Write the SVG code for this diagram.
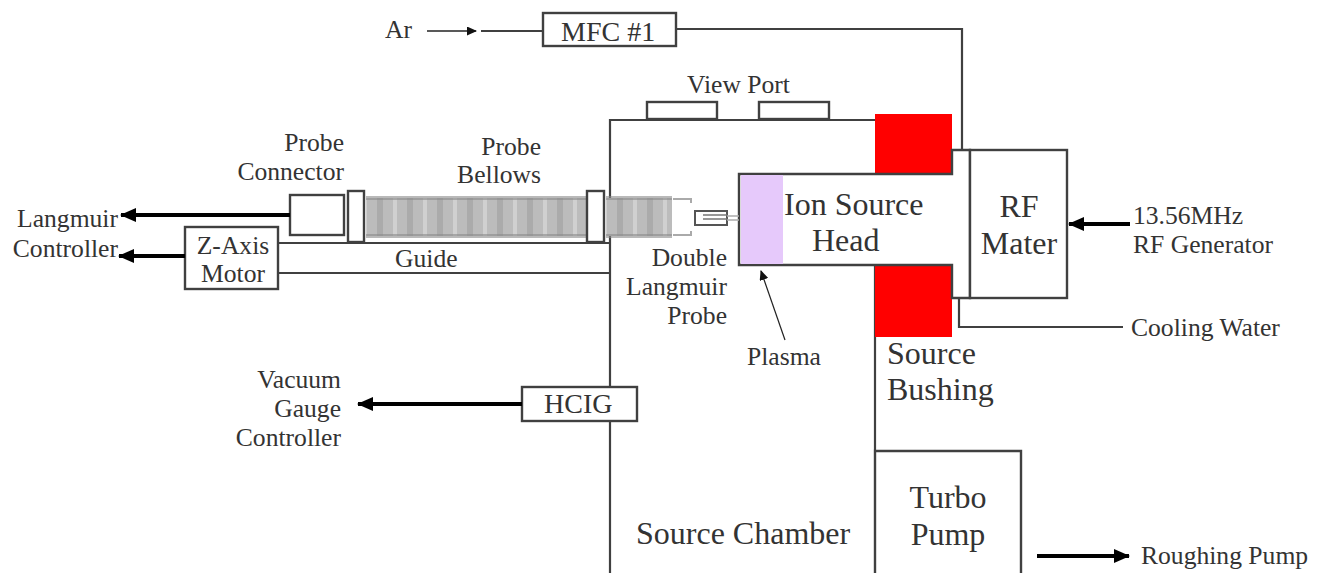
<svg xmlns="http://www.w3.org/2000/svg" width="1320" height="574" viewBox="0 0 1320 574">
<style>
text{font-family:"Liberation Serif","Times New Roman",serif;fill:#333;font-size:25.6px}
.m{font-size:32px}
.k{font-size:28px}
.e{text-anchor:end}
.c{text-anchor:middle}
.l{fill:none;stroke:#404040;stroke-width:2.2}
.b{fill:#fff;stroke:#404040;stroke-width:2.4}
.a{fill:none;stroke:#000;stroke-width:4;marker-end:url(#ah)}
.t{fill:none;stroke:#222;stroke-width:1.6;marker-end:url(#ths)}
.rim{fill:#8a8a8a;opacity:.6}
</style>
<defs>
<marker id="ah" markerUnits="userSpaceOnUse" markerWidth="16" markerHeight="14" refX="15" refY="7" orient="auto"><path d="M0 0L16 7L0 14Z" fill="#000"/></marker>
<marker id="ths" markerUnits="userSpaceOnUse" markerWidth="10" markerHeight="9" refX="9" refY="4.5" orient="auto"><path d="M0 0L10 4.5L0 9Z" fill="#111"/></marker>
<pattern id="bel" width="30" height="10" patternUnits="userSpaceOnUse"><rect width="30" height="10" fill="#bcbcbc"/><rect x="3" width="4" height="10" fill="#d0d0d0"/><rect x="17" width="6" height="10" fill="#ababab"/></pattern>
</defs>
<g id="chamber"><path class="l" d="M610 573V120H875M875 265V450"/></g>
<g id="view-port"><rect class="b" x="647" y="102" width="70" height="17"/><rect class="b" x="759" y="102" width="70" height="17"/><text x="687" y="93">View Port</text></g>
<g id="bushing"><rect x="875" y="114" width="77" height="60" fill="#f00"/><rect x="875" y="265" width="77" height="72" fill="#f00"/><text class="m" x="887" y="364">Source</text><text class="m" x="887" y="400">Bushing</text></g>
<g id="ion-head"><path d="M952 150H970V298H952V265H739V174H952Z" fill="#fff" stroke="#404040" stroke-width="2.4"/><rect x="741" y="175" width="42" height="89" fill="#e6c9fb"/><text class="m" x="784" y="215">Ion Source</text><text class="m" x="812" y="251">Head</text></g>
<g id="rf-mater"><rect class="b" x="970" y="150" width="97" height="148"/><text class="m c" x="1019" y="217">RF</text><text class="m c" x="1019" y="254">Mater</text></g>
<g id="mfc"><rect class="b" x="543" y="13" width="133" height="33"/><text class="k" x="561" y="41">MFC #1</text></g>
<g id="ar"><text x="385" y="38">Ar</text></g>
<g id="guide"><path class="l" d="M278 243H610M278 273H610"/><text x="395" y="267">Guide</text></g>
<g id="bellows"><rect x="366" y="198" width="222" height="38" fill="url(#bel)"/><rect class="rim" x="366" y="196" width="222" height="4"/><rect class="rim" x="366" y="234" width="222" height="4"/><rect x="606" y="198" width="66" height="38" fill="url(#bel)"/><rect class="rim" x="606" y="196" width="66" height="4"/><rect class="rim" x="606" y="234" width="66" height="4"/><rect class="b" x="348" y="191" width="16" height="51"/><rect class="b" x="587" y="191" width="17" height="51"/><text class="e" x="541" y="155">Probe</text><text class="e" x="541" y="183">Bellows</text></g>
<g id="probe-connector"><rect class="b" x="290" y="195" width="54" height="40"/><text class="e" x="344" y="151">Probe</text><text class="e" x="344" y="180">Connector</text></g>
<g id="double-probe"><path d="M673 199H691V203M673 235H691V231" fill="none" stroke="#aaa" stroke-width="2"/><rect x="695" y="211" width="32" height="14" fill="#fff" stroke="#555" stroke-width="2"/><path d="M703 215H727M703 219H727" stroke="#777" stroke-width="1.5"/><path d="M727 216H739M727 220H739" stroke="#aaa" stroke-width="1.5"/><text class="e" x="727" y="266">Double</text><text class="e" x="727" y="295">Langmuir</text><text class="e" x="727" y="324">Probe</text></g>
<g id="plasma"><text x="747" y="365">Plasma</text></g>
<g id="z-axis"><rect class="b" x="185" y="227" width="93" height="62"/><text class="c" x="233" y="254">Z-Axis</text><text class="c" x="233" y="282">Motor</text></g>
<g id="hcig"><rect class="b" x="522" y="387" width="115" height="34"/><text class="k" x="544" y="413">HCIG</text></g>
<g id="turbo"><path class="b" d="M875 573V451H1021V573"/><text class="m c" x="948" y="508">Turbo</text><text class="m c" x="948" y="545">Pump</text></g>
<g id="labels">
<text class="e" x="118" y="227">Langmuir</text><text class="e" x="118" y="257">Controller</text>
<text class="e" x="341" y="388">Vacuum</text><text class="e" x="341" y="417">Gauge</text><text class="e" x="341" y="446">Controller</text>
<text x="1133" y="224">13.56MHz</text><text x="1133" y="253">RF Generator</text>
<text x="1131" y="336">Cooling Water</text>
<text x="1141" y="564">Roughing Pump</text>
<text class="m" x="636" y="544">Source Chamber</text>
</g>
<g id="connectors">
<path class="t" d="M427 31H476"/>
<path class="l" d="M481 31H543M676 29H962V150"/>
<path class="l" d="M959 298V327H1123"/>
<path class="a" d="M290 215H121"/>
<path class="a" d="M185 256H119"/>
<path class="a" d="M522 404H358"/>
<path class="a" d="M1130 224H1069"/>
<path class="a" d="M1037 556H1129"/>
<path class="t" d="M785 340L761 271" style="stroke-width:1.2"/>
</g>
</svg>
